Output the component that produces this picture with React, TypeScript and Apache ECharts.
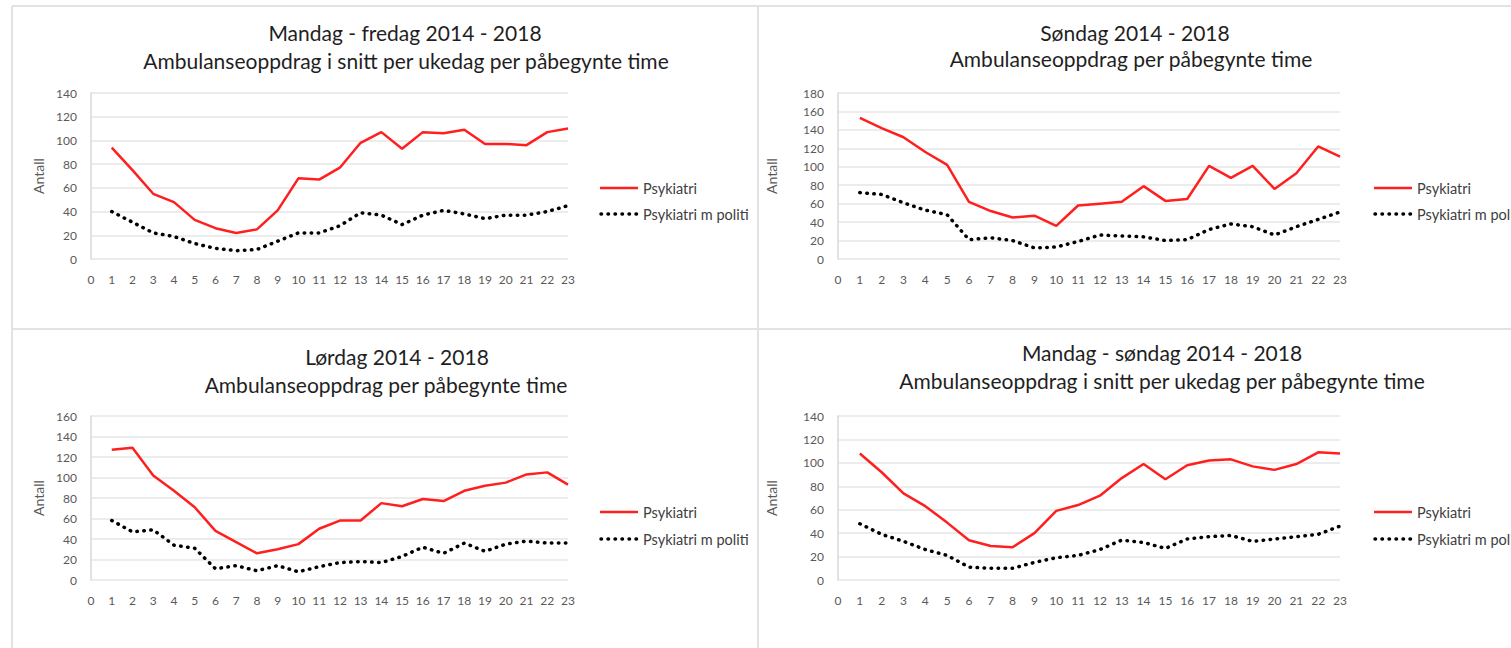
import React, { useEffect, useRef } from "react";
import * as echarts from "echarts";

const hours = ["0","1","2","3","4","5","6","7","8","9","10","11","12","13","14","15","16","17","18","19","20","21","22","23"];

const titles1 = ["Mandag - fredag 2014 - 2018", "Søndag 2014 - 2018", "Lørdag 2014 - 2018", "Mandag - søndag 2014 - 2018"];
const titles2 = [
  "Ambulanseoppdrag i snitt per ukedag per påbegynte time",
  "Ambulanseoppdrag per påbegynte time",
  "Ambulanseoppdrag per påbegynte time",
  "Ambulanseoppdrag i snitt per ukedag per påbegynte time",
];
const seriesNames = ["Psykiatri", "Psykiatri m politi"];
const yMax = [140, 180, 160, 140];

// values for hours 1..23 (hour 0 has no value)
const mfPsyk = [94, 75, 55, 48, 33, 26, 22, 25, 41, 68, 67, 77, 98, 107, 93, 107, 106, 109, 97, 97, 96, 107, 110];
const mfPol = [40, 31, 22, 19, 13, 9, 7, 8, 15, 22, 22, 28, 39, 37, 29, 37, 41, 38, 34, 37, 37, 40, 45];
const sunPsyk = [153, 142, 132, 116, 102, 62, 52, 45, 47, 36, 58, 60, 62, 79, 63, 65, 101, 88, 101, 76, 93, 122, 111];
const sunPol = [72, 70, 61, 53, 48, 21, 23, 20, 12, 13, 19, 26, 25, 24, 20, 21, 32, 38, 35, 26, 35, 43, 51];
const satPsyk = [127, 129, 102, 87, 71, 48, 37, 26, 30, 35, 50, 58, 58, 75, 72, 79, 77, 87, 92, 95, 103, 105, 93];
const satPol = [58, 47, 49, 34, 31, 11, 14, 9, 14, 8, 13, 17, 18, 17, 23, 32, 26, 36, 28, 35, 38, 36, 36];
const allPsyk = [108, 92, 74, 63, 49, 34, 29, 28, 40, 59, 64, 72, 87, 99, 86, 98, 102, 103, 97, 94, 99, 109, 108];
const allPol = [48, 39, 33, 26, 21, 11, 10, 10, 15, 19, 21, 26, 34, 32, 27, 35, 37, 38, 33, 35, 37, 39, 46];

const psykData = [mfPsyk, sunPsyk, satPsyk, allPsyk];
const polData = [mfPol, sunPol, satPol, allPol];

const FONT = "Lato, 'Noto Sans', sans-serif";

const layouts = [
  { left: 91, top: 93, width: 477, height: 166, t1: 32, t2: 60, tc1: 405, tc2: 406, nameGap: 46, lgX: 600, lgY1: 188, lgY2: 214 },
  { left: 838, top: 93, width: 502, height: 166, t1: 32, t2: 58, tc1: 1135, tc2: 1131, nameGap: 60, lgX: 1374, lgY1: 188, lgY2: 214 },
  { left: 91, top: 416, width: 477, height: 164, t1: 356, t2: 384, tc1: 397, tc2: 386, nameGap: 46, lgX: 600, lgY1: 512, lgY2: 539 },
  { left: 838, top: 416, width: 502, height: 164, t1: 352, t2: 380, tc1: 1162, tc2: 1162, nameGap: 60, lgX: 1374, lgY1: 512, lgY2: 539 },
];

const RED = "#ff1f1f";
const DOT = "#000000";
const dotDash = [0.5, 6.5];

export default function App() {
  const ref = useRef<HTMLDivElement>(null);
  useEffect(() => {
    if (!ref.current) return;
    const chart = echarts.init(ref.current, undefined, { renderer: "svg" });
    const title: any[] = [];
    const grid: any[] = [];
    const xAxis: any[] = [];
    const yAxis: any[] = [];
    const series: any[] = [];
    const graphic: any[] = [];
    const borderColor = "#e2e2e2";
    graphic.push(
      { type: "line", shape: { x1: 12, y1: 6, x2: 1511, y2: 6 }, style: { stroke: borderColor, lineWidth: 2 } },
      { type: "line", shape: { x1: 12, y1: 6, x2: 12, y2: 648 }, style: { stroke: borderColor, lineWidth: 2 } },
      { type: "line", shape: { x1: 758, y1: 6, x2: 758, y2: 648 }, style: { stroke: borderColor, lineWidth: 2 } },
      { type: "line", shape: { x1: 12, y1: 329, x2: 1511, y2: 329 }, style: { stroke: borderColor, lineWidth: 2 } }
    );
    layouts.forEach((L, i) => {
      title.push({
        text: titles1[i], left: L.tc1, top: L.t1 - 13, textAlign: "center", padding: 0,
        textStyle: { fontFamily: FONT, fontSize: 21, fontWeight: "normal", color: "#1f1f1f", lineHeight: 26 },
      });
      title.push({
        text: titles2[i], left: L.tc2, top: L.t2 - 13, textAlign: "center", padding: 0,
        textStyle: { fontFamily: FONT, fontSize: 21, fontWeight: "normal", color: "#1f1f1f", lineHeight: 26 },
      });
      grid.push({ left: L.left, top: L.top, width: L.width, height: L.height, containLabel: false });
      xAxis.push({
        type: "category", gridIndex: i, data: hours, boundaryGap: false,
        axisLine: { show: false }, axisTick: { show: false },
        axisLabel: { interval: 0, fontFamily: FONT, fontSize: 12, color: "#595959", margin: 14 },
        splitLine: { show: false },
      });
      yAxis.push({
        type: "value", gridIndex: i, min: 0, max: yMax[i], interval: 20,
        name: "Antall", nameLocation: "middle", nameRotate: 90, nameGap: L.nameGap,
        nameTextStyle: { fontFamily: FONT, fontSize: 14, color: "#595959" },
        axisLine: { show: true, lineStyle: { color: "#d9d9d9", width: 1.5 } },
        axisTick: { show: false },
        axisLabel: { fontFamily: FONT, fontSize: 12, color: "#595959", margin: 14 },
        splitLine: { show: true, lineStyle: { color: "#e6e6e6", width: 1.5 } },
      });
      series.push({
        name: seriesNames[0], type: "line", xAxisIndex: i, yAxisIndex: i,
        data: [null, ...psykData[i]], symbol: "none", showSymbol: false,
        lineStyle: { color: RED, width: 2.5 }, itemStyle: { color: RED },
      });
      series.push({
        name: seriesNames[1], type: "line", xAxisIndex: i, yAxisIndex: i,
        data: [null, ...polData[i]], symbol: "none", showSymbol: false,
        lineStyle: { color: DOT, width: 3.5, type: dotDash, cap: "round" }, itemStyle: { color: DOT },
      });
      graphic.push(
        { type: "line", shape: { x1: L.lgX, y1: L.lgY1, x2: L.lgX + 38, y2: L.lgY1 }, style: { stroke: RED, lineWidth: 2.5 } },
        { type: "text", x: L.lgX + 43, y: L.lgY1, style: { text: seriesNames[0], fontFamily: FONT, fontSize: 14.5, fill: "#404040", verticalAlign: "middle" } },
        { type: "line", shape: { x1: L.lgX + 1, y1: L.lgY2, x2: L.lgX + 38, y2: L.lgY2 }, style: { stroke: DOT, lineWidth: 3.5, lineDash: dotDash, lineCap: "round" } },
        { type: "text", x: L.lgX + 43, y: L.lgY2, style: { text: seriesNames[1], fontFamily: FONT, fontSize: 14.5, fill: "#404040", verticalAlign: "middle" } }
      );
    });
    chart.setOption({
      animation: false,
      backgroundColor: "#ffffff",
      title, grid, xAxis, yAxis, series, graphic,
    });
    return () => chart.dispose();
  }, []);
  return <div ref={ref} style={{ position: "absolute", left: 0, top: 0, width: 1511, height: 648 }} />;
}
